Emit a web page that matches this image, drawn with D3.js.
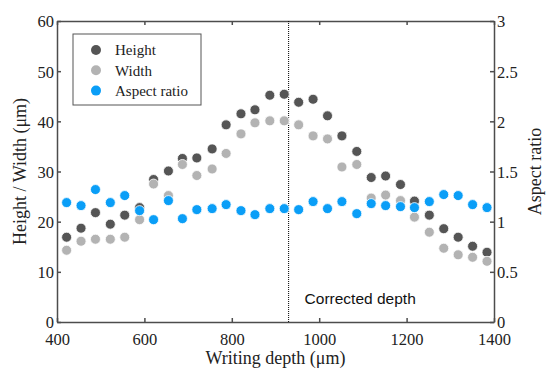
<!DOCTYPE html>
<html>
<head>
<meta charset="utf-8">
<script src="https://cdn.jsdelivr.net/npm/d3@7"></script>
<style>
  body { margin: 0; background: #fff; }
  .axis path, .axis line { stroke: #4d4d4d; stroke-width: 1.5; }
  .title { font-family: "Liberation Serif", serif; font-size: 18px; fill: #222; }
</style>
</head>
<body>
<div id="graphicContainer"></div>
<script>
// writing depth (um) of each measurement
var depth = [422, 455, 488, 522, 555, 589, 621, 655, 687, 720, 755, 787, 821, 853, 887,
  920, 953, 986, 1019, 1052, 1086, 1119, 1152, 1186, 1218, 1252, 1285, 1318, 1351, 1384]
var heightVals = [16.9, 18.7, 21.8, 19.5, 21.3, 22.8, 28.4, 30.1, 32.6, 32.7, 34.5, 39.3, 41.5, 42.3, 45.2,
  45.4, 43.8, 44.4, 41.1, 37.1, 34.0, 28.8, 29.1, 27.4, 24.1, 21.3, 18.6, 16.9, 15.1, 13.9]
var widthVals = [14.3, 16.1, 16.5, 16.5, 16.9, 20.4, 27.5, 25.2, 31.4, 29.2, 30.5, 33.6, 37.5, 39.7, 40.1,
  40.1, 39.3, 37.1, 36.5, 30.9, 31.4, 24.7, 25.3, 24.2, 20.9, 17.9, 14.7, 13.4, 12.9, 12.1]
var aspectVals = [1.19, 1.16, 1.32, 1.19, 1.26, 1.11, 1.02, 1.21, 1.03, 1.12, 1.13, 1.17, 1.11, 1.07, 1.13,
  1.13, 1.12, 1.20, 1.13, 1.20, 1.08, 1.18, 1.16, 1.15, 1.14, 1.20, 1.27, 1.26, 1.17, 1.14]

var xTicks = [400, 600, 800, 1000, 1200, 1400]
var yTicks = [0, 10, 20, 30, 40, 50, 60]
var y2Ticks = [0, 0.5, 1, 1.5, 2, 2.5, 3]
var correctedDepth = 930

var series = [
  { name: "Height", values: heightVals, color: "#555555", axis: "left" },
  { name: "Width", values: widthVals, color: "#b3b3b3", axis: "left" },
  { name: "Aspect ratio", values: aspectVals, color: "#0a9ef7", axis: "right" }
]

var margin = { top: 21, right: 53, bottom: 48, left: 57 }
var width = 547 - margin.left - margin.right
var height = 370 - margin.top - margin.bottom

var svg = d3.select("#graphicContainer").append("svg")
  .attr("width", 547)
  .attr("height", 370)

var features = svg.append("g").attr("transform", "translate(" + margin.left + "," + margin.top + ")")

var x = d3.scaleLinear().domain([400, 1400]).range([0, width])
var y = d3.scaleLinear().domain([0, 60]).range([height, 0])
var y2 = d3.scaleLinear().domain([0, 3]).range([height, 0])

var plain = function (d) { return d }

features.append("g")
  .attr("class", "axis")
  .attr("transform", "translate(0," + height + ")")
  .call(d3.axisBottom(x).tickValues(xTicks).tickFormat(plain).tickSizeInner(-4).tickSizeOuter(0).tickPadding(11))

features.append("g")
  .attr("class", "axis")
  .call(d3.axisTop(x).tickValues(xTicks).tickSizeInner(-4).tickSizeOuter(0).tickFormat(""))

features.append("g")
  .attr("class", "axis axis-left")
  .call(d3.axisLeft(y).tickValues(yTicks).tickFormat(plain).tickSizeInner(-4).tickSizeOuter(0).tickPadding(3))

features.append("g")
  .attr("class", "axis axis-right")
  .attr("transform", "translate(" + width + ",0)")
  .call(d3.axisRight(y2).tickValues(y2Ticks).tickFormat(plain).tickSizeInner(-4).tickSizeOuter(0).tickPadding(3))

features.selectAll(".axis text")
  .style("font-family", "'Liberation Serif', 'Times New Roman', serif")
  .style("font-size", "16.5px")
  .style("fill", "#222")
features.selectAll(".axis-left text, .axis-right text").attr("dy", "0.36em")

// dotted line at corrected depth
features.append("line")
  .attr("x1", x(correctedDepth))
  .attr("x2", x(correctedDepth))
  .attr("y1", 0)
  .attr("y2", height)
  .attr("stroke", "#000")
  .attr("stroke-width", 1)
  .attr("stroke-dasharray", "1,1")

features.append("text")
  .attr("x", x(correctedDepth) + 16)
  .attr("y", 283)
  .style("font-family", "'Liberation Sans', Arial, sans-serif")
  .style("font-size", "15.5px")
  .style("fill", "#111")
  .text("Corrected depth")

series.forEach(function (s) {
  var scale = s.axis == "left" ? y : y2
  features.selectAll(".dot-" + s.name.replace(" ", ""))
    .data(s.values)
    .enter().append("circle")
    .attr("cx", function (d, i) { return x(depth[i]) })
    .attr("cy", function (d) { return scale(d) })
    .attr("r", 5)
    .style("fill", s.color)
    .style("stroke", "#fff")
    .style("stroke-width", 0.8)
})

// legend
var legend = features.append("g").attr("transform", "translate(16,13)")
legend.append("rect")
  .attr("width", 128)
  .attr("height", 71)
  .attr("fill", "#fff")
  .attr("stroke", "#555")
  .attr("stroke-width", 1)

series.forEach(function (s, i) {
  legend.append("circle")
    .attr("cx", 23)
    .attr("cy", 16 + i * 20.3)
    .attr("r", 5)
    .style("fill", s.color)
  legend.append("text")
    .attr("x", 42)
    .attr("y", 16 + i * 20.3)
    .attr("dy", "0.35em")
    .style("font-family", "'Liberation Serif', serif")
    .style("font-size", "15px")
    .style("fill", "#222")
    .text(s.name)
})

// axis titles
svg.append("text")
  .attr("class", "title")
  .attr("x", margin.left + width / 2)
  .attr("y", 364)
  .attr("text-anchor", "middle")
  .text("Writing depth (\u03bcm)")

svg.append("text")
  .attr("class", "title")
  .attr("transform", "translate(26," + (margin.top + height / 2) + ") rotate(-90)")
  .attr("text-anchor", "middle")
  .text("Height / Width (\u03bcm)")

svg.append("text")
  .attr("class", "title")
  .attr("transform", "translate(541," + (margin.top + height / 2) + ") rotate(-90)")
  .attr("text-anchor", "middle")
  .text("Aspect ratio")
</script>
</body>
</html>
